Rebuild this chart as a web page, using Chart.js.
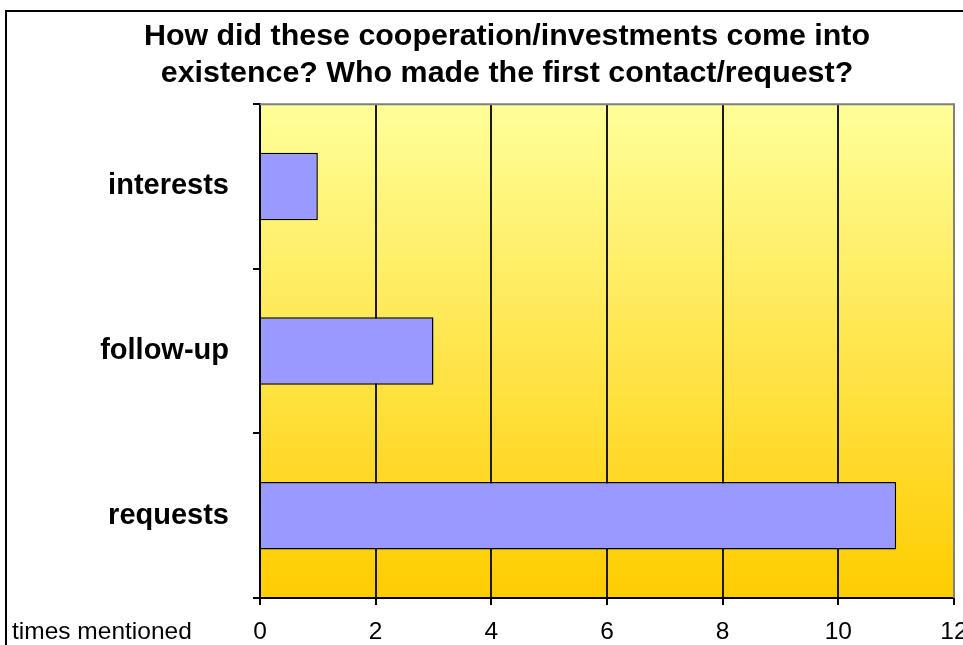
<!DOCTYPE html>
<html>
<head>
<meta charset="utf-8">
<script src="https://cdn.jsdelivr.net/npm/chart.js@4.4.1/dist/chart.umd.min.js"></script>
<style>
  html, body { margin: 0; padding: 0; background: #fff; overflow: hidden; }
  #wrap { width: 963px; height: 645px; overflow: hidden; position: relative; }
  #chart { position: absolute; left: 0; top: 0; }
</style>
</head>
<body>
<div id="wrap"><canvas id="chart" width="1014" height="700"></canvas></div>
<script>
// chart values
const titleLines = ['How did these cooperation/investments come into', 'existence? Who made the first contact/request?'];
const categories = ['interests', 'follow-up', 'requests'];
const timesMentioned = [1, 3, 11];
const axisCaption = 'times mentioned';
const xMin = 0;
const xMax = 12;
const xStep = 2;

const FONT = "'Liberation Sans', Arial, sans-serif";

// gradient background, outer frame, top/right plot border and the caption
const decorPlugin = {
    id: 'decor',
    beforeDraw(chart) {
        const { ctx, chartArea: a } = chart;
        ctx.save();
        ctx.fillStyle = '#fff';
        ctx.fillRect(0, 0, chart.width, chart.height);
        const g = ctx.createLinearGradient(0, a.top, 0, a.bottom);
        g.addColorStop(0, '#FFFF99');
        g.addColorStop(1, '#FFCC00');
        ctx.fillStyle = g;
        ctx.fillRect(a.left, a.top, a.right - a.left, a.bottom - a.top);
        ctx.restore();
    },
    beforeDatasetsDraw(chart) {
        const { ctx, chartArea: a } = chart;
        ctx.save();
        ctx.strokeStyle = '#808080';
        ctx.lineWidth = 2;
        ctx.beginPath();
        ctx.moveTo(a.left, a.top);
        ctx.lineTo(a.right, a.top);
        ctx.lineTo(a.right, a.bottom);
        ctx.stroke();
        ctx.restore();
    },
    afterDraw(chart) {
        const { ctx } = chart;
        ctx.save();
        ctx.strokeStyle = '#000';
        ctx.lineWidth = 2;
        ctx.strokeRect(6, 11, 2000, 2000);
        ctx.fillStyle = '#000';
        ctx.font = '24.5px ' + FONT;
        ctx.textAlign = 'left';
        ctx.textBaseline = 'alphabetic';
        ctx.fillText(axisCaption, 12, 639);
        ctx.restore();
    }
};

new Chart(document.getElementById('chart'), {
    type: 'bar',
    data: {
        labels: categories,
        datasets: [{
            data: timesMentioned,
            backgroundColor: '#9999FF',
            borderColor: '#000',
            borderWidth: 1.5,
            barPercentage: 0.41,
            categoryPercentage: 1
        }]
    },
    options: {
        indexAxis: 'y',
        responsive: false,
        animation: false,
        layout: { padding: 0 },
        plugins: {
            legend: { display: false },
            tooltip: { enabled: false },
            title: {
                display: true,
                text: titleLines,
                color: '#000',
                font: { family: FONT, size: 30.4, weight: 'bold', lineHeight: 1.22 },
                padding: { top: 18, bottom: 12 }
            }
        },
        scales: {
            x: {
                min: xMin,
                max: xMax,
                ticks: {
                    stepSize: xStep,
                    color: '#000',
                    padding: 13,
                    font: { family: FONT, size: 24.5 }
                },
                grid: {
                    color: (c) => c.tick && c.tick.value === xMax ? '#808080' : '#1a1a1a',
                    tickColor: '#000',
                    lineWidth: 2,
                    tickLength: 7
                },
                border: { color: '#000', width: 2 },
                afterFit(scale) {
                    scale.height = 102;
                    scale.paddingRight = 60;
                }
            },
            y: {
                ticks: {
                    color: '#000',
                    padding: 24,
                    font: { family: FONT, size: 29, weight: 'bold' }
                },
                grid: {
                    drawOnChartArea: false,
                    tickColor: '#000',
                    lineWidth: 2,
                    tickLength: 7
                },
                border: { color: '#000', width: 2 },
                afterFit(scale) { scale.width = 260; }
            }
        }
    },
    plugins: [decorPlugin]
});
</script>
</body>
</html>
